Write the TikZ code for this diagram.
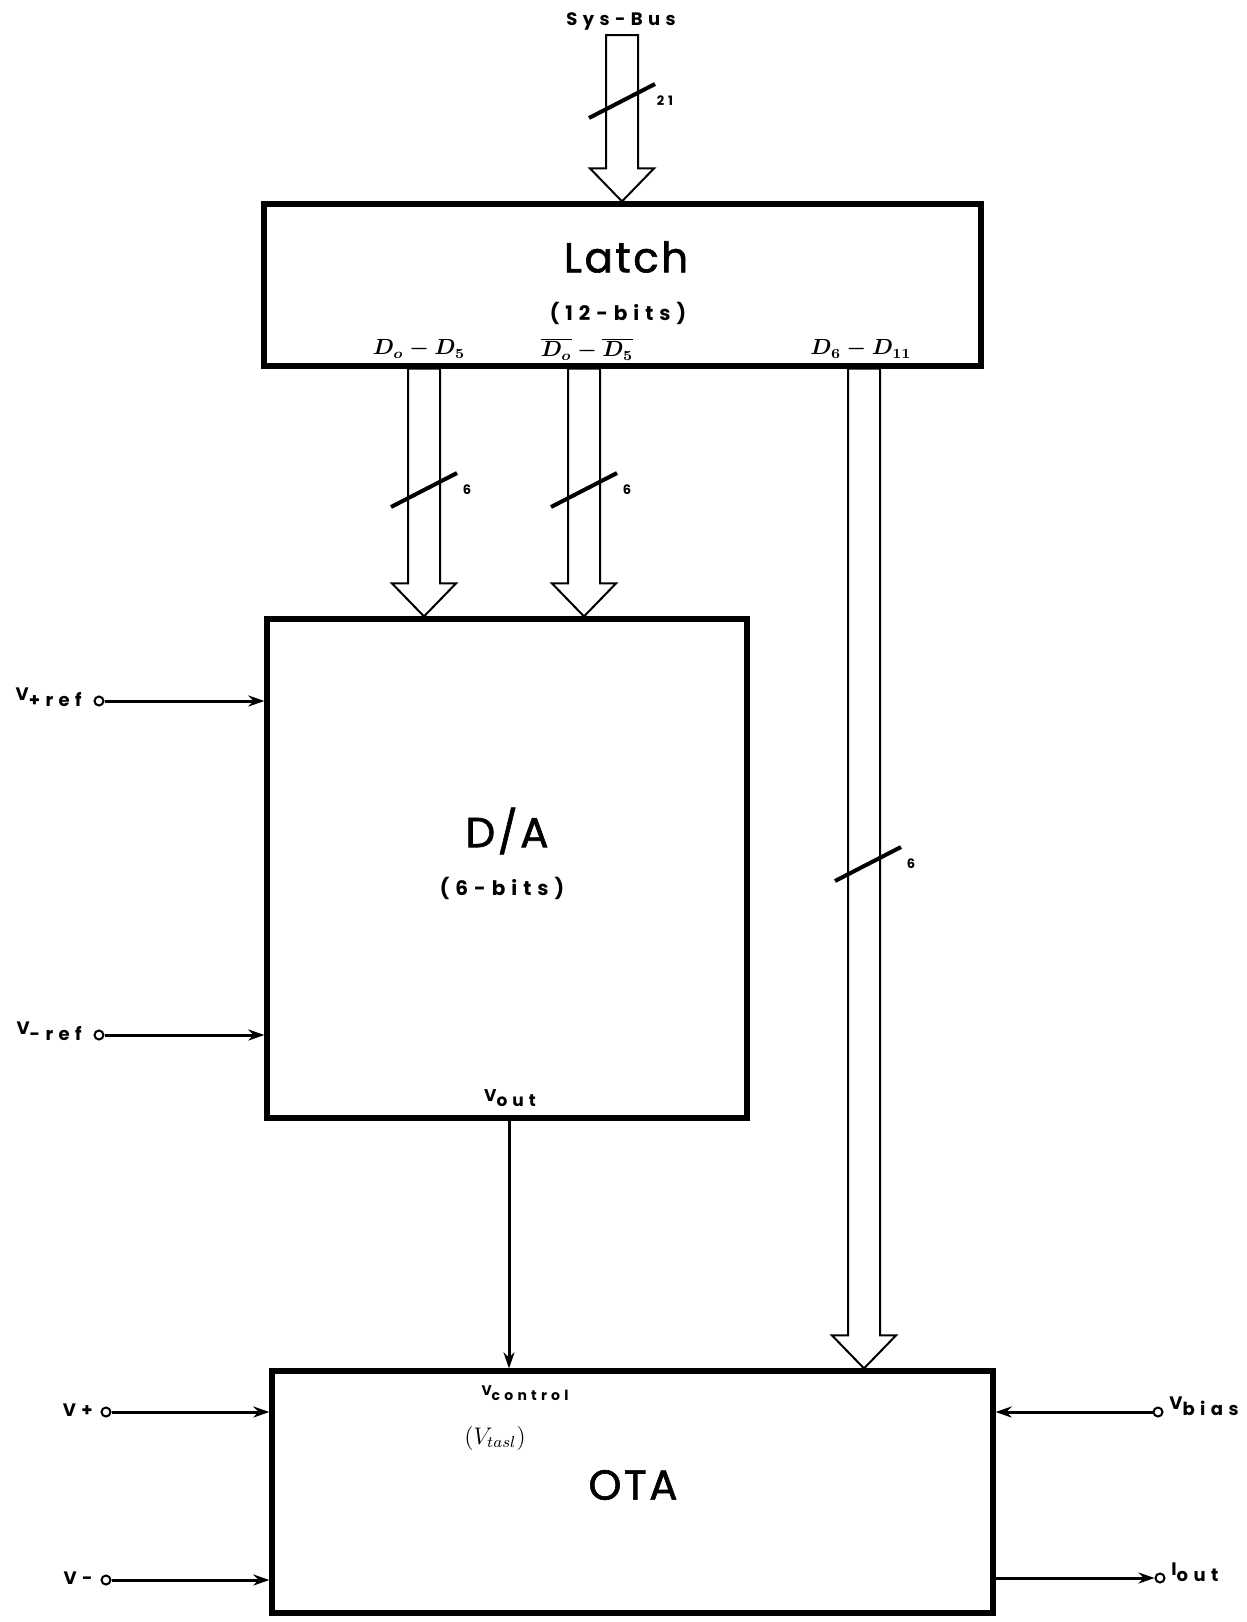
\documentclass[tikz,border=0pt]{standalone}
\usepackage{fontspec}
\setmainfont{Poppins}
\newfontfamily\titlefont[LetterSpace=6, FakeBold=1.5]{Poppins}
\newfontfamily\lblfont[LetterSpace=30]{Poppins}
\usetikzlibrary{positioning, arrows.meta, calc}

% hollow bus arrow: #1 top centre, #2 tip
\newcommand{\hollowbus}[2]{%
  \draw[bus] ($(#1)+(-16,0)$) -- ($(#2)+(-16,-33)$) -- ($(#2)+(-32,-33)$) -- (#2)
    -- ($(#2)+(32,-33)$) -- ($(#2)+(16,-33)$) -- ($(#1)+(16,0)$) -- cycle;}
% bus width mark: #1 centre, #2 name, #3 count
\newcommand{\buswidth}[3]{%
  \draw[tick] ($(#1)+(-33,17)$) -- ($(#1)+(33,-17)$);
  \node[lbl, font=\lblfont\bfseries\fontsize{6.5}{7}\selectfont] (#2) at ($(#1)+(43,0)$) {#3};}

\begin{document}
\begin{tikzpicture}[x=0.5pt, y=-0.5pt,
  blk/.style={draw, line width=2.6pt, inner sep=0pt},
  bus/.style={draw, line width=1pt, fill=white, line join=miter},
  wire/.style={line width=1.5pt},
  arr/.style={wire, -{Stealth[length=8pt, width=5.5pt]}},
  pin/.style={circle, draw, line width=1pt, fill=white, inner sep=0pt, minimum size=4.5pt},
  big/.style={font=\titlefont\fontsize{21}{24}\selectfont},
  bits/.style={font=\lblfont\bfseries\fontsize{10}{12}\selectfont},
  lbl/.style={font=\lblfont\bfseries\fontsize{7}{8}\selectfont, inner sep=1pt},
  vlbl/.style={lbl, font=\lblfont\bfseries\fontsize{9}{10}\selectfont},
  dlbl/.style={font=\boldmath\fontsize{10.5}{12}\selectfont, inner sep=1pt},
  tick/.style={line width=2pt}
]
  \useasboundingbox (0,0) rectangle (1247,1622);

  % blocks
  \node[blk, minimum width=358.5pt, minimum height=81pt] (latch) at (622.5,285) {};
  \node[blk, minimum width=240pt, minimum height=249.5pt] (da) at (507,868.5) {};
  \node[blk, minimum width=360.5pt, minimum height=121pt] (ota) at (632.5,1492) {};

  \node[big] (latchname) at (626,257) {Latch};
  \node[bits] (latchbits) at (618,313) {(12-bits)};
  \node[big] (daname) at (507,831) {D/A};
  \node[bits] (dabits) at (502,888) {(6-bits)};
  \node[big] (otaname) at (633,1485) {OTA};

  % system bus
  \node[lbl, font=\lblfont\bfseries\fontsize{9}{10}\selectfont] (sysbusl) at (621,21) {Sys-Bus};
  \coordinate (sysbus) at (622,35);
  \hollowbus{sysbus}{sysbus |- latch.north}
  \buswidth{622,101}{sysbusw}{21}

  % data buses
  \coordinate (bA) at (424,0);
  \coordinate (bB) at (584,0);
  \coordinate (bC) at (864,0);
  \hollowbus{bA |- latch.south}{bA |- da.north}
  \hollowbus{bB |- latch.south}{bB |- da.north}
  \hollowbus{bC |- latch.south}{bC |- ota.north}
  \buswidth{424,490}{bAw}{6}
  \buswidth{584,490}{bBw}{6}
  \buswidth{868,864}{bCw}{6}

  \node[dlbl] (dlo) at (419,349) {$D_o - D_5$};
  \node[dlbl] (dlobar) at (587,349) {$\overline{D_o} - \overline{D_5}$};
  \node[dlbl] (dhi) at (861,349) {$D_6 - D_{11}$};

  % D/A references
  \node[pin] (vpref) at (99,701) {};
  \node[vlbl, anchor=east] (vprefl) at (84,697) {V\raisebox{-0.6ex}{+ref}};
  \draw[arr] (vpref) -- (vpref -| da.west);
  \node[pin] (vmref) at (99,1035) {};
  \node[vlbl, anchor=east] (vmrefl) at (84,1031) {V\raisebox{-0.6ex}{-ref}};
  \draw[arr] (vmref) -- (vmref -| da.west);

  % D/A output to OTA control
  \node[lbl, font=\lblfont\bfseries\fontsize{8.5}{9}\selectfont] (voutl) at (510,1098) {V\raisebox{-0.6ex}{out}};
  \coordinate (vctl) at (509,0);
  \draw[arr] (vctl |- da.south) -- (vctl |- ota.north);
  \node[lbl] (vctll) at (525,1393) {V\raisebox{-0.6ex}{control}};
  \node[dlbl, font=\fontsize{11.5}{13}\selectfont] (vtasl) at (495,1438) {$(V_{tasl})$};

  % OTA terminals
  \node[pin] (vplus) at (106,1412) {};
  \node[vlbl, anchor=east] (vplusl) at (95,1410) {V+};
  \draw[arr] (vplus) -- (vplus -| ota.west);
  \node[pin] (vminus) at (106,1580) {};
  \node[vlbl, anchor=east] (vminusl) at (95,1578) {V-};
  \draw[arr] (vminus) -- (vminus -| ota.west);
  \node[pin] (vbias) at (1158,1412) {};
  \node[vlbl, anchor=west] (vbiasl) at (1167,1406) {V\raisebox{-0.6ex}{bias}};
  \draw[arr] (vbias) -- (vbias -| ota.east);
  \node[pin] (iout) at (1160,1578) {};
  \node[vlbl, anchor=west] (ioutl) at (1169,1572) {I\raisebox{-0.6ex}{out}};
  \draw[arr] (iout -| ota.east) -- (iout);
\end{tikzpicture}
\end{document}
